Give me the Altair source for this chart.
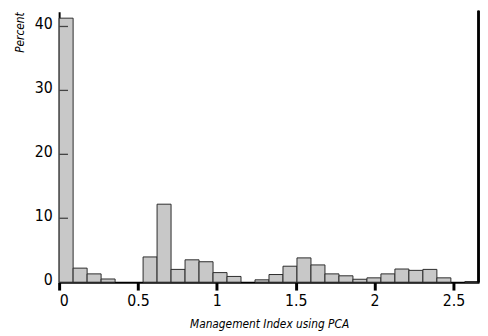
import altair as alt
import pandas as pd

# Histogram: bin width and percent per bin
bin_width = 0.0887
percent = [41.3, 2.2, 1.3, 0.5, 0, 0, 3.95, 12.2, 2.0, 3.5, 3.2, 1.5, 0.9, 0,
           0.37, 1.2, 2.5, 3.8, 2.7, 1.3, 1.0, 0.46, 0.68, 1.3, 2.06, 1.85,
           2.0, 0.68, 0, 0.1]
x_ticks = [0, 0.5, 1, 1.5, 2, 2.5]
y_ticks = [0, 10, 20, 30, 40]
y_inner_ticks = [10, 20, 30, 40]
x_domain = [0, 2.662]
y_domain = [0, 42.3]

df = pd.DataFrame({"lo": [i * bin_width for i in range(len(percent))], "pct": percent})
df["hi"] = df["lo"] + bin_width
df["base"] = 0.0
df = df[df["pct"] > 0]

ticks_df = pd.DataFrame({"pct": y_inner_ticks})

FONT = "DejaVu Sans Condensed, Roboto, sans-serif"
W, H = 427, 275

xscale = alt.Scale(domain=x_domain, nice=False, zero=False)
yscale = alt.Scale(domain=y_domain, nice=False)

y_axis = alt.Axis(values=y_ticks, title="Percent", ticks=False, tickSize=0,
                  labelPadding=7, labelOffset=-3,
                  titleAngle=-90, titleAlign="right", titleX=-40,
                  titleY=0, titleBaseline="middle")

bars = alt.Chart(df).mark_bar(fill="#c8c8c8", stroke="#2a2a2a", strokeWidth=1).encode(
    x=alt.X("lo:Q", scale=xscale,
            axis=alt.Axis(values=x_ticks, title="Management Index using PCA",
                          format="~g", tickSize=8, tickWidth=3, tickColor="black",
                          labelPadding=3, titleX=W / 2, titleY=46,
                          titleBaseline="alphabetic", titleAnchor="middle")),
    x2="hi",
    y=alt.Y("pct:Q", scale=yscale, axis=y_axis),
    y2="base",
)

inner_ticks = alt.Chart(ticks_df).mark_rule(color="#444", strokeWidth=1.3).encode(
    y=alt.Y("pct:Q", scale=yscale, axis=y_axis),
    x=alt.value(0),
    x2=alt.value(9),
)

right_line = alt.Chart(ticks_df).mark_rule(color="black", strokeWidth=2).encode(
    x=alt.value(W - 0.5),
    y=alt.value(-1),
    y2=alt.value(H),
)

chart = alt.layer(bars, inner_ticks, right_line).properties(
    width=W, height=H,
    autosize=alt.AutoSizeParams(type="none"),
    padding={"left": 52, "top": 1, "right": 1, "bottom": 59},
).configure_view(stroke=None).configure_axis(
    grid=False, domainColor="black", domainWidth=2,
    labelFont=FONT, labelFontSize=16, labelColor="black",
    titleFont=FONT, titleFontSize=12, titleFontStyle="italic",
    titleFontWeight="normal", titleColor="black",
)

chart.save("out.html", embed_options={"renderer": "svg", "actions": False})
